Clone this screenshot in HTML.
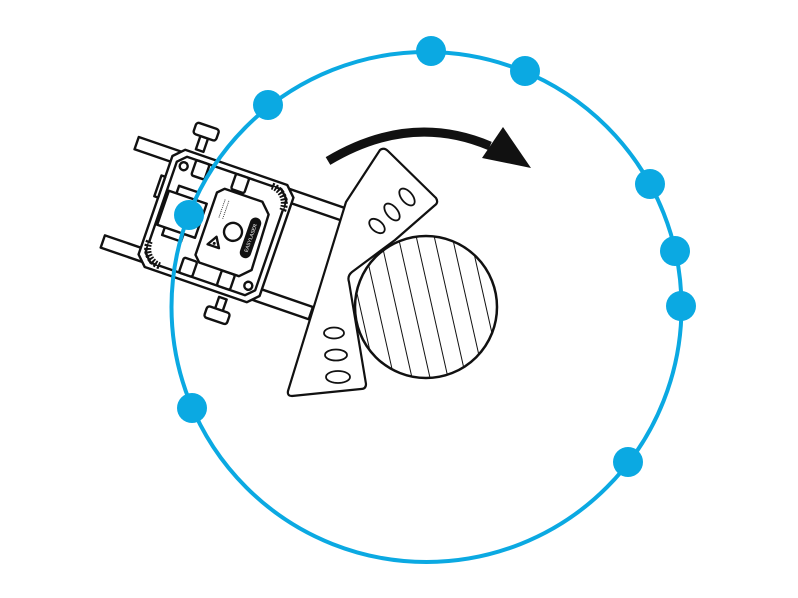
<!DOCTYPE html>
<html><head><meta charset="utf-8"><style>html,body{margin:0;padding:0;background:#fff}svg{display:block}</style></head>
<body>
<svg width="798" height="598" viewBox="0 0 798 598" xmlns="http://www.w3.org/2000/svg">
<defs>
<clipPath id="cc"><circle cx="426" cy="307" r="71"/></clipPath>
</defs>
<!-- device -->
<g transform="translate(216,226) rotate(19)" stroke="#111" stroke-width="2.4" fill="#fff" stroke-linejoin="round">
  <rect x="-102" y="-59" width="220" height="13"/>
  <rect x="-102" y="45" width="220" height="13"/>
  <!-- knobs -->
  <rect x="-44" y="-80" width="8" height="14"/>
  <rect x="-52" y="-92" width="24" height="12" rx="3"/>
  <rect x="26" y="66" width="8" height="14"/>
  <rect x="18" y="78" width="24" height="12" rx="3"/>
  <!-- body -->
  <path d="M-54,-62 L54,-62 L64,-52 L64,52 L54,62 L-54,62 L-64,52 L-64,-52 Z"/>
  <path d="M-50,-56 L50,-56 L58,-48 L58,48 L50,56 L-50,56 L-58,48 L-58,-48 Z"/>
  <rect x="-68" y="-30" width="4" height="22"/>
  <!-- slots -->
  <rect x="-40" y="-56" width="14" height="16" rx="2"/>
  <rect x="2" y="-56" width="14" height="16" rx="2"/>
  <rect x="-20" y="40" width="14" height="16" rx="2"/>
  <rect x="20" y="40" width="14" height="16" rx="2"/>
  <!-- corner screws -->
  <circle cx="-50" cy="-46" r="4"/><circle cx="50" cy="46" r="4"/>
  <!-- gears -->
  <path d="M40,-56 A18,18 0 0 1 58,-36" stroke-width="7" stroke-dasharray="2 1.5"/>
  <path d="M-58,36 A18,18 0 0 0 -40,56" stroke-width="7" stroke-dasharray="2 1.5"/>
  <!-- cam plate -->
  <rect x="-48" y="-26" width="20" height="52"/>
  <rect x="-56" y="-18" width="40" height="36"/>
  <!-- laser window -->
  <path d="M-4,-38 L36,-38 L46,-28 L48,30 L38,40 L-4,40 L-10,34 L-10,-32 Z"/>
  <circle cx="18" cy="0" r="9"/>
  <rect x="32" y="-20" width="9" height="40" rx="4.5" fill="#111"/>
  <text x="0" y="0" transform="translate(36.5,0) rotate(-90)" font-family="Liberation Sans, sans-serif" font-size="5" fill="#fff" stroke="none" text-anchor="middle" dy="1.8">EASYLASER</text>
  <path d="M-2,20 L4,10 L10,20 Z" fill="#fff"/><circle cx="4" cy="17" r="1.5" fill="#111" stroke="none"/>
  <line x1="0" y1="-28" x2="0" y2="-8" stroke-width="0.8" stroke-dasharray="1 1"/>
  <line x1="4" y1="-28" x2="4" y2="-8" stroke-width="0.8" stroke-dasharray="1 1"/>
</g>
<!-- plate -->
<path d="M380,150 Q384,147 388,151 L436,198 Q439,203 434,206 L395,240 L352,272 Q347,276 349,282 L366,384 Q366,389 361,389 L292,396 Q287,396 288,391 L346,202 Z" fill="#fff" stroke="#111" stroke-width="2.2" stroke-linejoin="round"/>
<g fill="#fff" stroke="#111" stroke-width="1.8">
  <ellipse cx="377" cy="226" rx="5.5" ry="9" transform="rotate(-50 377 226)"/>
  <ellipse cx="392" cy="212" rx="5.5" ry="10" transform="rotate(-40 392 212)"/>
  <ellipse cx="407" cy="197" rx="5.5" ry="10" transform="rotate(-40 407 197)"/>
  <ellipse cx="334" cy="333" rx="10" ry="5.5"/>
  <ellipse cx="336" cy="355" rx="11" ry="5.5"/>
  <ellipse cx="338" cy="377" rx="12" ry="6"/>
</g>
<!-- hatched circle -->
<circle cx="426" cy="307" r="71" fill="#fff"/>
<g clip-path="url(#cc)" stroke="#111" stroke-width="1">
  <line x1="300" y1="200" x2="345" y2="400"/><line x1="318" y1="200" x2="363" y2="400"/>
  <line x1="336" y1="200" x2="381" y2="400"/><line x1="354" y1="200" x2="399" y2="400"/>
  <line x1="372" y1="200" x2="417" y2="400"/><line x1="390" y1="200" x2="435" y2="400"/>
  <line x1="408" y1="200" x2="453" y2="400"/><line x1="426" y1="200" x2="471" y2="400"/>
  <line x1="444" y1="200" x2="489" y2="400"/><line x1="462" y1="200" x2="507" y2="400"/>
  <line x1="480" y1="200" x2="525" y2="400"/><line x1="498" y1="200" x2="543" y2="400"/>
</g>
<circle cx="426" cy="307" r="71" fill="none" stroke="#111" stroke-width="2.5"/>
<!-- arrow -->
<path d="M328,161 Q410,112 490,146" fill="none" stroke="#111" stroke-width="9"/>
<path d="M503,127 L531,168 L482,158 Z" fill="#111"/>
<!-- blue orbit -->
<circle cx="426.5" cy="307" r="255" fill="none" stroke="#0ba9e2" stroke-width="4"/>
<g fill="#0ba9e2">
  <circle cx="431" cy="51" r="15"/><circle cx="525" cy="71" r="15"/>
  <circle cx="268" cy="105" r="15"/><circle cx="650" cy="184" r="15"/>
  <circle cx="675" cy="251" r="15"/><circle cx="681" cy="306" r="15"/>
  <circle cx="192" cy="408" r="15"/><circle cx="628" cy="462" r="15"/>
  <circle cx="189" cy="215" r="15"/>
</g>
</svg>
</body></html>
